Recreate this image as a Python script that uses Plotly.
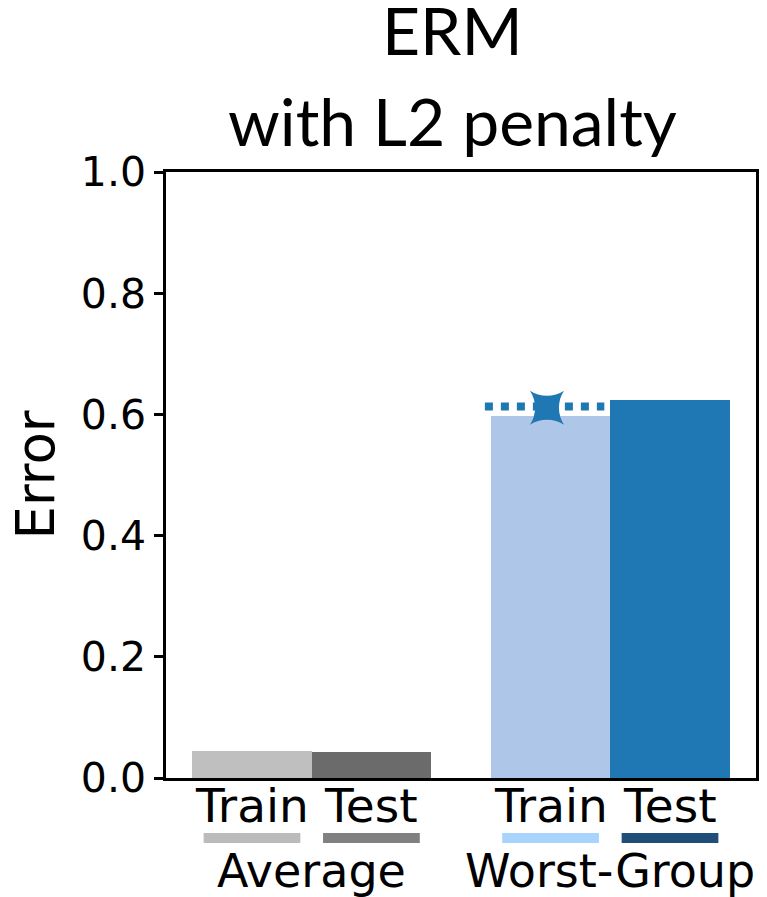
import plotly.graph_objects as go

# ---- data ----
groups = ["Average", "Worst-Group"]
splits = ["Train", "Test"]
avg_errors = [0.045, 0.043]
worst_errors = [0.598, 0.624]
dotted_level = [0.613, 0.613]
star_value = [0.611]
title_lines = ["ERM", "with L2 penalty"]
y_ticks = [0, 0.2, 0.4, 0.6, 0.8, 1.0]
y_tick_labels = ["0.0", "0.2", "0.4", "0.6", "0.8", "1.0"]

bar_colors = ["#bfbfbf", "#6b6b6b", "#aec7e8", "#1f77b4"]
under_colors = ["#bbbbbb", "#808080", "#a8d3fd", "#1f4e79"]

# ---- layout helpers ----
W, H = 767, 897
ML, MR, MT, MB = 166, 11, 172, 119
plot_h = H - MT - MB
plot_w = W - ML - MR

def py(px):
    """figure pixel row -> paper y"""
    return (H - MB - px) / plot_h

def pxx(px):
    return (px - ML) / plot_w

group_gap = 2.5
positions = []
values = []
labels = []
for gi, vals in enumerate([avg_errors, worst_errors]):
    for si, v in enumerate(vals):
        positions.append(gi * group_gap + si)
        values.append(v)
        labels.append(splits[si])

fig = go.Figure()
fig.add_trace(go.Bar(
    x=positions, y=values, width=1.0,
    marker=dict(color=bar_colors, line=dict(width=0)),
    showlegend=False,
))

# dotted reference line over worst-group train
wg_train_x = positions[2]
fig.add_trace(go.Scatter(
    x=[wg_train_x - 0.55, wg_train_x + 0.45], y=dotted_level,
    mode="lines", line=dict(color="#1f77b4", width=8, dash="8px,8px"),
    showlegend=False, cliponaxis=False,
))
fig.add_trace(go.Scatter(
    x=[wg_train_x - 0.03], y=star_value, mode="markers",
    marker=dict(symbol="star-square", size=31, color="#1f77b4", line=dict(width=0)),
    showlegend=False,
))

# split labels + underline bars
for p, c, lab in zip(positions, under_colors, labels):
    fig.add_annotation(x=p, y=py(805), xref="x", yref="paper", text=lab,
                       showarrow=False, yanchor="middle", xanchor="center",
                       font=dict(family="DejaVu Sans", size=47, color="black"))
    fig.add_shape(type="line", xref="x", yref="paper",
                  x0=p - 0.405, x1=p + 0.405, y0=py(838), y1=py(838),
                  line=dict(color=c, width=10))

# group labels
for gi, g in enumerate(groups):
    cx = gi * group_gap + 0.5
    fig.add_annotation(x=cx, y=py(871), xref="x", yref="paper", text=g,
                       showarrow=False, yanchor="middle", xanchor="center",
                       font=dict(family="DejaVu Sans", size=46, color="black"))

# title (two lines)
for t, ypx in zip(title_lines, [30, 120]):
    fig.add_annotation(x=pxx(452), y=py(ypx), xref="paper", yref="paper",
                       text=t, showarrow=False, xanchor="center", yanchor="middle",
                       font=dict(family="Lato", size=66, color="black"))

fig.update_layout(
    width=W, height=H,
    margin=dict(l=ML, r=MR, t=MT, b=MB, autoexpand=False),
    plot_bgcolor="white", paper_bgcolor="white",
    font=dict(family="DejaVu Sans", color="black"),
    bargap=0,
)
fig.update_xaxes(
    range=[-0.72, 4.22], showticklabels=False,
    showline=True, mirror=True, linecolor="black", linewidth=2.5,
    ticks="", showgrid=False, zeroline=False, automargin=False,
)
fig.update_yaxes(
    range=[0, 1.0], tickvals=y_ticks, ticktext=y_tick_labels,
    showline=True, mirror=True, linecolor="black", linewidth=2.5,
    ticks="outside", ticklen=9, tickwidth=2.5, tickcolor="black",
    showgrid=False, zeroline=False, automargin=False,
    tickfont=dict(family="DejaVu Sans", size=41, color="black"),
    title=dict(text="Error", font=dict(family="DejaVu Sans", size=53, color="black"), standoff=10),
)

fig.write_html("out.html", config={"displayModeBar": False},
               post_script="document.body.style.margin='0px';")
